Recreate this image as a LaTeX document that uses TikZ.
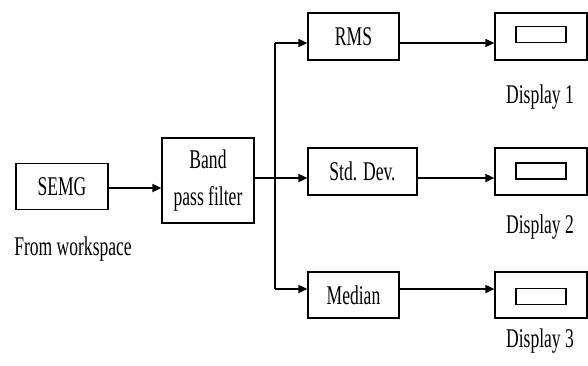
\documentclass[tikz,border=0pt]{standalone}
\usepackage{fontspec}
\setmainfont[FakeStretch=0.65]{Liberation Serif}
\usetikzlibrary{arrows.meta}
\begin{document}
\begin{tikzpicture}[x=1pt,y=-1pt,
  txt/.style={font=\fontsize{27}{37}\selectfont, inner sep=0pt},
  blockbox/.style={draw, line width=1.2pt, txt, align=center},
  screen/.style={draw, line width=1.2pt, minimum width=50pt, minimum height=16pt, inner sep=0pt},
  wire/.style={line width=1.7pt},
  arr/.style={wire, -{Triangle[length=9pt,width=8pt]}}]
\useasboundingbox (0,0) rectangle (588,365);

% processing blocks
\node[blockbox, minimum width=92pt, minimum height=46pt] (semg) at (62,186.5) {SEMG};
\node[blockbox, minimum width=92pt, minimum height=85pt] (bpf) at (208,180.5) {Band\\pass filter};
\node[blockbox, minimum width=91pt, minimum height=47pt] (rms) at (353.5,36.5) {RMS};
\node[blockbox, minimum width=109pt, minimum height=47pt] (std) at (362.5,171.5) {Std. Dev.};
\node[blockbox, minimum width=91pt, minimum height=46pt] (med) at (353.5,295) {Median};

% display blocks with their screens
\node[blockbox, minimum width=92pt, minimum height=47pt] (d1) at (541,36.5) {};
\node[blockbox, minimum width=92pt, minimum height=47pt] (d2) at (541,171.5) {};
\node[blockbox, minimum width=92pt, minimum height=46pt] (d3) at (541,295) {};
\node[screen] (s1) at (541,34.5) {};
\node[screen] (s2) at (541,171) {};
\node[screen] (s3) at (541,296.5) {};

% labels
\node[txt, anchor=base] (lw) at (73,255) {From workspace};
\node[txt, anchor=base] (l1) at (540,103) {Display 1};
\node[txt, anchor=base] (l2) at (540,233) {Display 2};
\node[txt, anchor=base] (l3) at (540,347) {Display 3};

% branching points
\coordinate (j) at (275,178);
\coordinate (jt) at (275,43);
\coordinate (jb) at (275,289);

% connectors
\draw[arr] (semg.east |- 0,188) -- (bpf.west |- 0,188);
\draw[wire] (bpf.east |- j) -- (j);
\draw[wire] (jt) -- (jb);
\draw[arr] (jt) -- (jt -| rms.west);
\draw[arr] (j) -- (j -| std.west);
\draw[arr] (jb) -- (jb -| med.west);
\draw[arr] (rms.east |- jt) -- (d1.west |- jt);
\draw[arr] (std.east |- j) -- (d2.west |- j);
\draw[arr] (med.east |- jb) -- (d3.west |- jb);
\end{tikzpicture}
\end{document}
